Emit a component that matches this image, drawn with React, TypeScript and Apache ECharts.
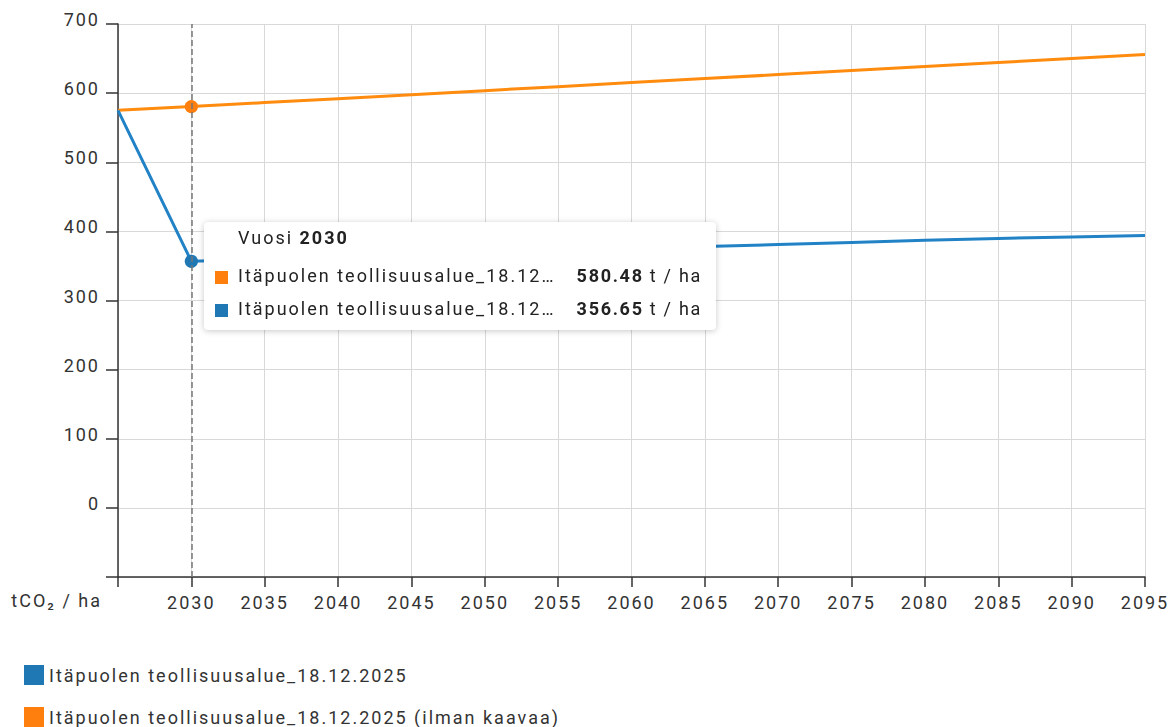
import React, { useEffect, useRef } from "react";
import * as echarts from "echarts";

const years = [2025, 2030, 2035, 2040, 2045, 2050, 2055, 2060, 2065, 2070, 2075, 2080, 2085, 2090, 2095];
const withPlan = [575.1, 356.65, 359.7, 362.8, 365.9, 369.0, 372.1, 375.2, 378.1, 381.0, 384.0, 387.0, 389.8, 392.0, 394.2];
const withoutPlan = [575.1, 580.48, 586.3, 592.0, 597.8, 603.6, 609.4, 615.2, 621.0, 626.8, 632.6, 638.4, 644.2, 650.0, 655.8];

const nameWith = "Itäpuolen teollisuusalue_18.12.2025";
const nameWithout = "Itäpuolen teollisuusalue_18.12.2025 (ilman kaavaa)";
const yAxisName = "tCO₂ / ha";
const tooltipYear = 2030;

const BLUE = "#1f77b4";
const ORANGE = "#ff7f0e";
const FONT = "Roboto, 'Liberation Sans', sans-serif";

export default function App() {
  const ref = useRef<HTMLDivElement>(null);

  useEffect(() => {
    if (!ref.current) return;
    const chart = echarts.init(ref.current, undefined, { renderer: "svg" });
    const pairs = (vals: number[]) => years.map((y, i) => [y, vals[i]]);

    chart.setOption({
      animation: false,
      textStyle: { fontFamily: FONT },
      grid: { left: 118, right: 31, top: 24, bottom: 150, containLabel: false },
      legend: {
        orient: "vertical",
        left: 24,
        top: 665,
        padding: 0,
        itemWidth: 20,
        itemHeight: 20,
        itemGap: 22,
        icon: "rect",
        data: [nameWith, nameWithout],
        textStyle: { fontSize: 18, color: "#333", fontFamily: FONT },
      },
      tooltip: {
        trigger: "axis",
        triggerOn: "none",
        alwaysShowContent: true,
        backgroundColor: "#fff",
        borderWidth: 0,
        padding: [6, 14, 11, 11],
        extraCssText: "box-shadow: 0 1px 6px rgba(0,0,0,0.22); border-radius: 4px; letter-spacing: 2px;",
        textStyle: { fontFamily: FONT, fontSize: 18, color: "#222" },
        position: (point: number[]) => [point[0] + 13, 222],
        axisPointer: {
          type: "line",
          lineStyle: { color: "#777", type: "dashed", width: 1.5 },
        },
        formatter: (params: any[]) => {
          const year = params[0].value[0];
          const rows = params
            .map((p) => {
              const nm = p.seriesName.length > 30 ? p.seriesName.slice(0, 30) + "…" : p.seriesName;
              return `<div style="display:flex;align-items:center;width:487px;line-height:20px;margin-top:${p.componentIndex === 0 ? 18 : 13}px;">
                <span style="display:inline-block;width:13px;height:13px;background:${p.color};margin-right:10px;margin-top:3px;"></span>
                <span>${nm}</span>
                <span style="margin-left:auto;letter-spacing:1.7px;"><b>${Number(p.value[1]).toFixed(2)}</b> t / ha</span>
              </div>`;
            })
            .join("");
          return `<div style="line-height:20px;padding-left:23px;">Vuosi <b>${year}</b></div>${rows}`;
        },
      },
      xAxis: {
        type: "value",
        min: 2025,
        max: 2095,
        interval: 5,
        axisLine: { onZero: false, lineStyle: { color: "#333", width: 1.5 } },
        axisTick: { show: true, length: 10, lineStyle: { color: "#333", width: 1.5 } },
        axisLabel: {
          color: "#333",
          fontSize: 18,
          margin: 16,
          formatter: (v: number) => (v === 2025 ? "" : String(v)),
        },
        splitLine: { show: true, lineStyle: { color: "#d9d9d9", width: 1 } },
      },
      yAxis: {
        type: "value",
        min: -100,
        max: 700,
        interval: 100,
        name: yAxisName,
        nameLocation: "start",
        nameGap: 23,
        nameTextStyle: {
          color: "#333",
          fontSize: 18,
          align: "right",
          verticalAlign: "middle",
          padding: [0, 16, 0, 0],
        },
        axisLine: { show: true, lineStyle: { color: "#333", width: 1.5 } },
        axisTick: { show: true, length: 12, lineStyle: { color: "#333", width: 1.5 } },
        axisLabel: {
          color: "#333",
          fontSize: 18,
          margin: 18,
          verticalAlign: "bottom",
          lineHeight: 9,
          formatter: (v: number) => (v < 0 ? "" : String(v)),
        },
        splitLine: { show: true, lineStyle: { color: "#d9d9d9", width: 1 } },
      },
      series: [
        {
          name: nameWithout,
          type: "line",
          data: pairs(withoutPlan),
          color: ORANGE,
          showSymbol: false,
          symbol: "circle",
          symbolSize: 12,
          lineStyle: { width: 3, color: ORANGE },
          itemStyle: { color: ORANGE },
          emphasis: { scale: 1.1, lineStyle: { width: 3 } },
        },
        {
          name: nameWith,
          type: "line",
          data: pairs(withPlan),
          color: BLUE,
          showSymbol: false,
          symbol: "circle",
          symbolSize: 12,
          lineStyle: { width: 3, color: BLUE },
          itemStyle: { color: BLUE },
          emphasis: { scale: 1.1, lineStyle: { width: 3 } },
        },
      ],
    });

    const idx = years.indexOf(tooltipYear);
    chart.dispatchAction({ type: "showTip", seriesIndex: 0, dataIndex: idx });

    return () => chart.dispose();
  }, []);

  return (
    <>
      <style>{`#chart-root svg text { letter-spacing: 2px; } body { margin: 0; }`}</style>
      <div
        id="chart-root"
        ref={ref}
        style={{ position: "fixed", left: 0, top: 0, width: 1176, height: 727, background: "#fff" }}
      />
    </>
  );
}
